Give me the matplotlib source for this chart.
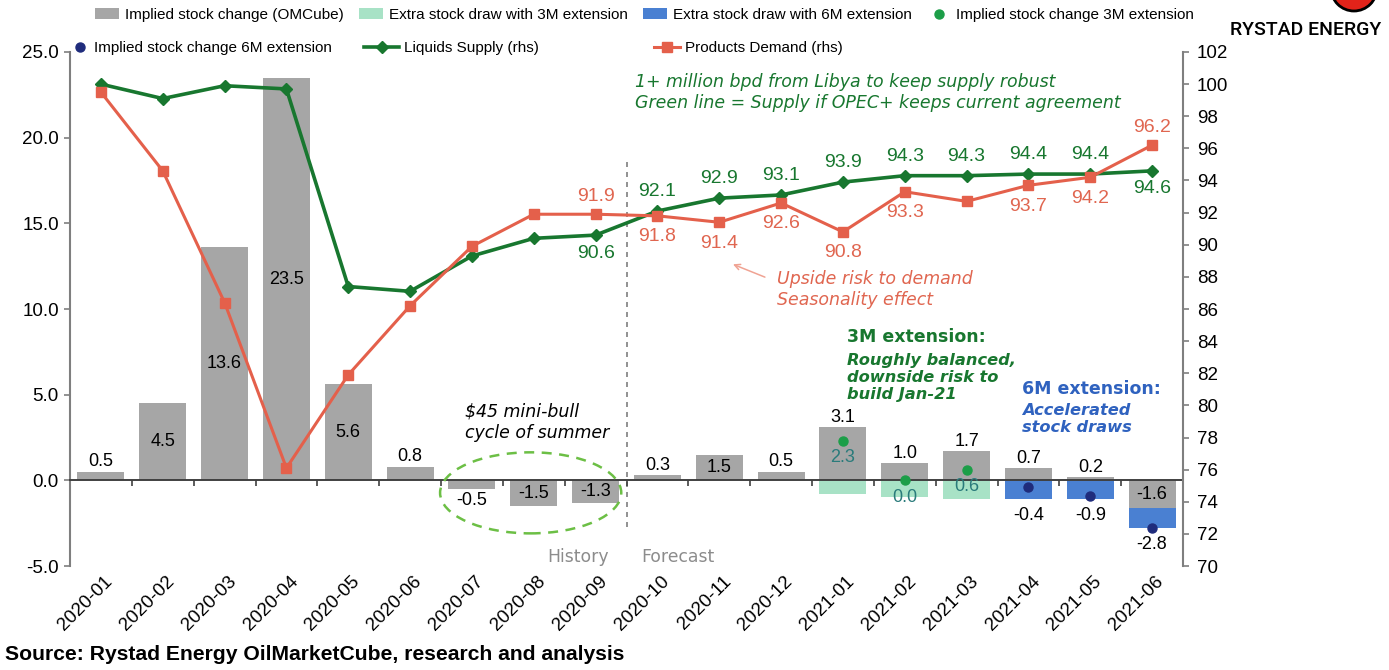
import numpy as np
import matplotlib
matplotlib.use("Agg")
import matplotlib.pyplot as plt
from matplotlib.patches import Ellipse
from matplotlib.transforms import ScaledTranslation

nan = np.nan

# Data
months = ["2020-01", "2020-02", "2020-03", "2020-04", "2020-05", "2020-06",
          "2020-07", "2020-08", "2020-09", "2020-10", "2020-11", "2020-12",
          "2021-01", "2021-02", "2021-03", "2021-04", "2021-05", "2021-06"]
stock_change = [0.5, 4.5, 13.6, 23.5, 5.6, 0.8, -0.5, -1.5, -1.3,
                0.3, 1.5, 0.5, 3.1, 1.0, 1.7, 0.7, 0.2, -1.6]
extra_3m = [nan] * 12 + [-0.8, -1.0, -1.1] + [nan] * 3
extra_6m = [nan] * 15 + [-1.1, -1.1, -1.2]
implied_3m = [nan] * 12 + [2.3, 0.0, 0.6] + [nan] * 3
implied_6m = [nan] * 15 + [-0.4, -0.9, -2.8]
liquids_supply = [100.0, 99.1, 99.9, 99.7, 87.4, 87.1, 89.3, 90.4, 90.6,
                  92.1, 92.9, 93.1, 93.9, 94.3, 94.3, 94.4, 94.4, 94.6]
products_demand = [99.5, 94.6, 86.4, 76.1, 81.9, 86.2, 89.9, 91.9, 91.9,
                   91.8, 91.4, 92.6, 90.8, 93.3, 92.7, 93.7, 94.2, 96.2]
left_ticks = [-5, 0, 5, 10, 15, 20, 25]
right_ticks = list(range(70, 103, 2))

# which point labels are shown, and on which side
supply_labels = {8: "below", 9: "above", 10: "above", 11: "above", 12: "above",
                 13: "above", 14: "above", 15: "above", 16: "above", 17: "below"}
demand_labels = {8: "above", 9: "below", 10: "below", 11: "below", 12: "below",
                 13: "below", 15: "below", 16: "below", 17: "above"}

plt.rcParams["font.family"] = ["Liberation Sans", "DejaVu Sans"]

GRAY = "#a6a6a6"
LIGHT_GREEN = "#a8e2c6"
BLUE = "#4a80d2"
DOT_GREEN = "#1c9e48"
DOT_NAVY = "#1f2c7c"
SUPPLY = "#18772f"
DEMAND = "#e4604b"
AXIS = "#7f7f7f"

fig = plt.figure(figsize=(13.89, 6.70), dpi=100)
ax = fig.add_axes([0.0504, 0.1552, 0.8013, 0.7672])
ax2 = ax.twinx()

x = np.arange(len(months))
w = 0.76
sc = np.array(stock_change)
base = np.minimum(sc, 0)

bars = ax.bar(x, sc, w, color=GRAY, zorder=2, label="Implied stock change (OMCube)")
b3 = ax.bar(x, extra_3m, w, bottom=base, color=LIGHT_GREEN, zorder=2,
            label="Extra stock draw with 3M extension")
b6 = ax.bar(x, extra_6m, w, bottom=base, color=BLUE, zorder=2,
            label="Extra stock draw with 6M extension")
dot3, = ax.plot(x, implied_3m, "o", color=DOT_GREEN, ms=6.5, zorder=4,
                label="Implied stock change 3M extension")
dot6, = ax.plot(x, implied_6m, "o", color=DOT_NAVY, ms=6.5, zorder=4,
                label="Implied stock change 6M extension")

sup, = ax2.plot(x, liquids_supply, color=SUPPLY, lw=2.6, marker="D", ms=6,
                zorder=3, label="Liquids Supply (rhs)")
dem, = ax2.plot(x, products_demand, color=DEMAND, lw=2.2, marker="s", ms=7,
                zorder=3, label="Products Demand (rhs)")

# axes cosmetics
ax.set_xlim(-0.5, 17.5)
ax.set_ylim(-5, 25)
ax2.set_ylim(70, 102)
ax.set_yticks(left_ticks, [f"{t:.1f}" for t in left_ticks])
ax2.set_yticks(right_ticks, [str(t) for t in right_ticks])

for s in ["top", "right"]:
    ax.spines[s].set_visible(False)
for s in ["top", "left", "bottom"]:
    ax2.spines[s].set_visible(False)
ax.spines["left"].set_color(AXIS)
ax.spines["left"].set_linewidth(1.5)
ax2.spines["right"].set_color(AXIS)
ax2.spines["right"].set_linewidth(1.5)
ax.spines["bottom"].set_position(("data", 0))
ax.spines["bottom"].set_color("#404040")
ax.spines["bottom"].set_linewidth(1.4)

ax.tick_params(axis="y", length=4, width=1.2, color=AXIS, labelsize=13.5, pad=4)
ax2.tick_params(axis="y", length=4, width=1.2, color=AXIS, labelsize=13.5, pad=6)

ax.set_xticks(x, months)
ax.set_xticks(np.arange(0.5, 17, 1), minor=True)
ax.tick_params(axis="x", which="major", length=0, pad=71, labelsize=13.5)
ax.tick_params(axis="x", which="minor", length=4, width=1.2, color="#404040")
shift = ScaledTranslation(9 / 100, 0, fig.dpi_scale_trans)
for lab in ax.get_xticklabels():
    lab.set_rotation(45)
    lab.set_ha("right")
    lab.set_va("center")
    lab.set_rotation_mode("anchor")
    lab.set_transform(lab.get_transform() + shift)

# bar labels
for i, v in enumerate(stock_change):
    has_ext = not np.isnan(extra_3m[i]) or not np.isnan(extra_6m[i])
    if abs(v) >= 1.3 and not (v > 0 and has_ext):
        ax.text(i, v / 2, f"{v:.1f}", ha="center", va="center", fontsize=13, zorder=5)
    elif v >= 0:
        ax.annotate(f"{v:.1f}", (i, v), xytext=(0, 1), textcoords="offset points",
                    ha="center", va="bottom", fontsize=13, zorder=5)
    else:
        ax.annotate(f"{v:.1f}", (i, v), xytext=(0, -2), textcoords="offset points",
                    ha="center", va="top", fontsize=13, zorder=5)

for i, v in enumerate(implied_3m):
    if not np.isnan(v):
        ax.annotate(f"{v:.1f}", (i, v), xytext=(0, -12), textcoords="offset points",
                    ha="center", va="center", fontsize=13, color="#2a7b7b", zorder=5)
for i, v in enumerate(implied_6m):
    if not np.isnan(v):
        low = base[i] + extra_6m[i]
        ax.annotate(f"{v:.1f}", (i, low), xytext=(0, -11.5), textcoords="offset points",
                    ha="center", va="center", fontsize=13, zorder=5)

# line labels
for i, side in supply_labels.items():
    dy = 14 if side == "above" else -13
    ax2.annotate(f"{liquids_supply[i]:.1f}", (i, liquids_supply[i]), xytext=(0, dy),
                 textcoords="offset points", ha="center", va="center",
                 fontsize=14, color=SUPPLY)
for i, side in demand_labels.items():
    dy = 13 if side == "above" else -15
    ax2.annotate(f"{products_demand[i]:.1f}", (i, products_demand[i]), xytext=(0, dy),
                 textcoords="offset points", ha="center", va="center",
                 fontsize=14, color="#e06650")

# history / forecast split and annotations
ax.axvline(8.5, ymin=0.076, ymax=0.79, color=AXIS, ls=(0, (3, 3)), lw=1.2, zorder=1)
ax.text(8.21, -4.5, "History", ha="right", va="center", fontsize=12.4,
        color="#8c8c8c", family="DejaVu Sans")
ax.text(8.74, -4.5, "Forecast", ha="left", va="center", fontsize=12.4,
        color="#8c8c8c", family="DejaVu Sans")

ax.add_patch(Ellipse((6.95, -0.73), 2.93, 4.73, fill=False, ec="#6cbf45",
                     lw=1.8, ls=(0, (4, 3)), zorder=3))
ax.text(5.89, 3.39, "$45 mini-bull\ncycle of summer", ha="left", va="center",
        fontsize=12.5, style="italic", family="DejaVu Sans")

ax.text(8.63, 22.63, "1+ million bpd from Libya to keep supply robust\n"
        "Green line = Supply if OPEC+ keeps current agreement",
        ha="left", va="center", fontsize=12.5, style="italic",
        color=SUPPLY, family="DejaVu Sans")

ax.text(10.93, 11.16, "Upside risk to demand\nSeasonality effect", ha="left",
        va="center", fontsize=12.5, style="italic", color="#e06650",
        family="DejaVu Sans")
ax.annotate("", xy=(10.18, 12.67), xytext=(10.78, 11.8),
            arrowprops=dict(arrowstyle="->", color="#f0a393", lw=1.1))

ax.text(12.06, 8.35, "3M extension:", ha="left", va="center", fontsize=12.5,
        fontweight="bold", color=SUPPLY, family="DejaVu Sans")
ax.text(12.06, 6.02, "Roughly balanced,\ndownside risk to\nbuild Jan-21",
        ha="left", va="center", fontsize=11.7, fontweight="bold", style="italic",
        color=SUPPLY, family="DejaVu Sans", linespacing=1.17)
ax.text(14.9, 5.32, "6M extension:", ha="left", va="center", fontsize=12.5,
        fontweight="bold", color="#2f62bf", family="DejaVu Sans")
ax.text(14.9, 3.59, "Accelerated\nstock draws", ha="left", va="center",
        fontsize=11.7, fontweight="bold", style="italic", color="#2f62bf",
        family="DejaVu Sans", linespacing=1.17)

# legends (two rows, laid out like the original)
leg_kw = dict(frameon=False, fontsize=11, borderpad=0, borderaxespad=0,
              handletextpad=0.35, loc="upper left")
fig.legend(handles=[bars, b3, b6, dot3], ncol=4, handlelength=1.6,
           handleheight=0.7, columnspacing=1.0,
           bbox_to_anchor=(95 / 1389, 1 - 8 / 670), **leg_kw)
fig.legend(handles=[dot6], handlelength=1.1,
           bbox_to_anchor=(72 / 1389, 1 - 41 / 670), **leg_kw)
fig.legend(handles=[sup], handlelength=2.3,
           bbox_to_anchor=(364 / 1389, 1 - 41 / 670), **leg_kw)
fig.legend(handles=[dem], handlelength=1.7,
           bbox_to_anchor=(654 / 1389, 1 - 41 / 670), **leg_kw)

# source and logo
fig.text(5 / 1389, 1 - 655 / 670, "Source: Rystad Energy OilMarketCube, research and analysis",
         ha="left", va="center", fontsize=15.2, fontweight="bold")
fig.text(1381 / 1389, 1 - 30 / 670, "RYSTAD ENERGY", ha="right", va="center",
         fontsize=14, family="Roboto", fontweight="medium")
fig.add_artist(Ellipse((1354 / 1389, 1 + 12 / 670), 46 / 1389, 46 / 670,
                       transform=fig.transFigure, fc="#e2231a", ec="black", lw=2))

fig.savefig("out.png", dpi=100)
